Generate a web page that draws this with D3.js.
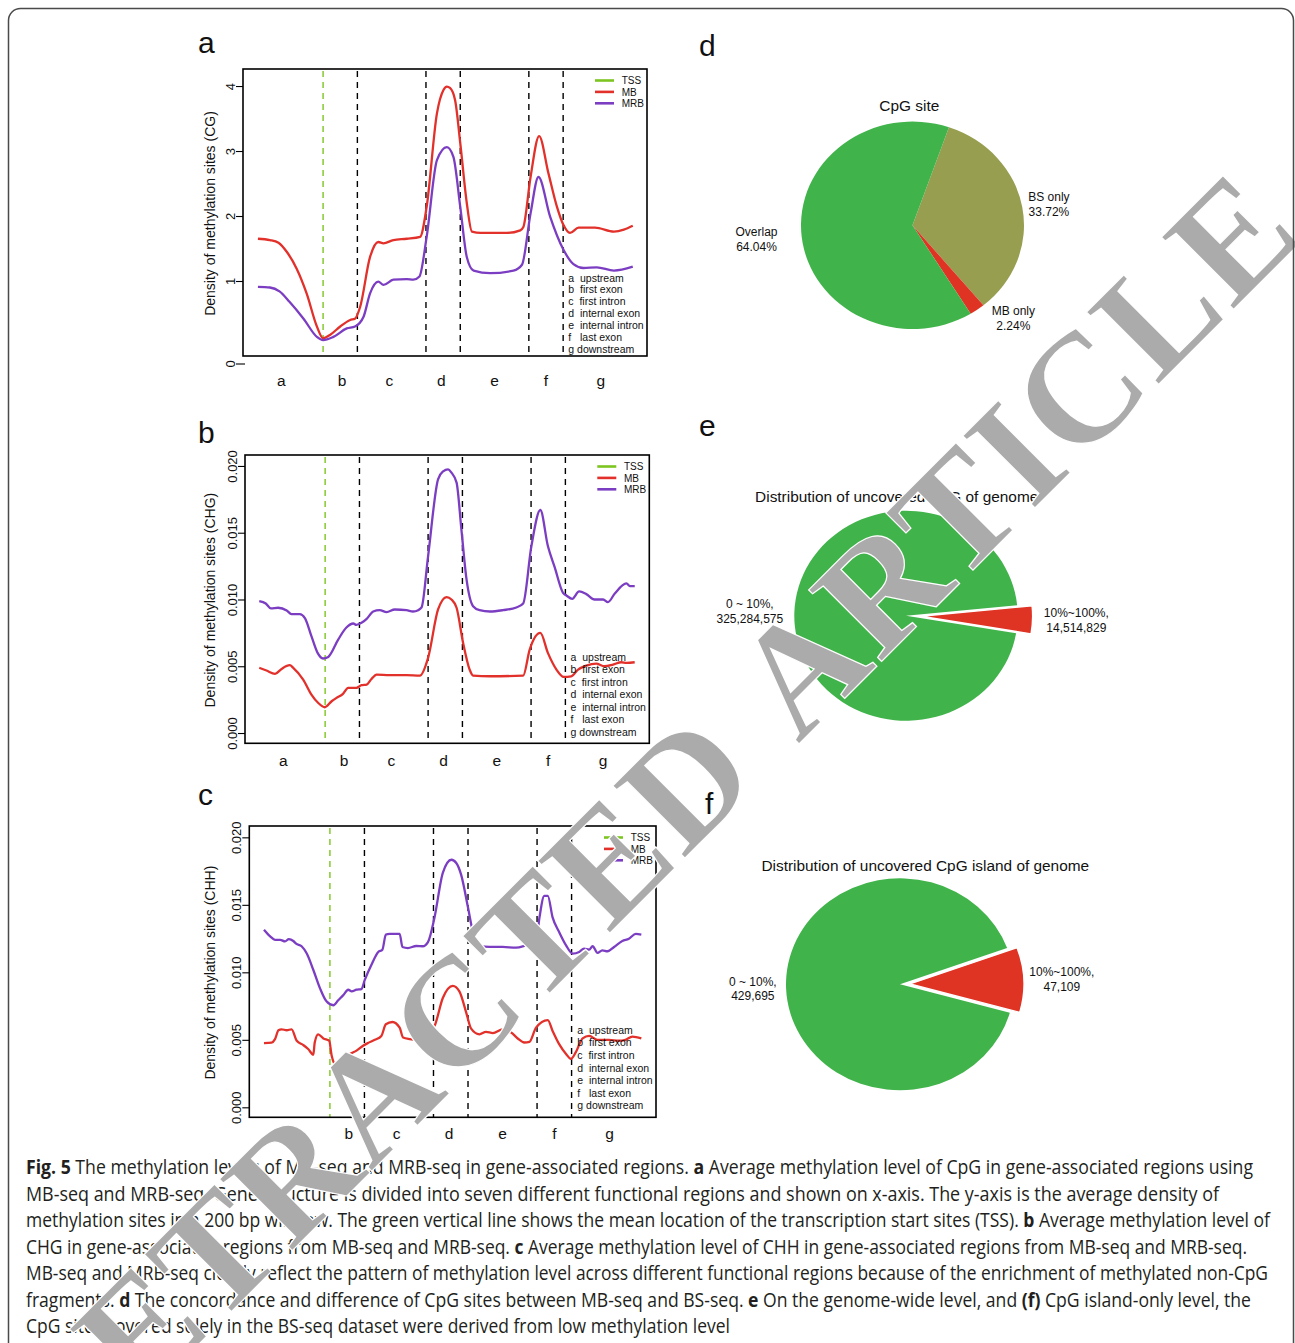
<!DOCTYPE html>
<html>
<head>
<meta charset="utf-8">
<script src="https://cdn.jsdelivr.net/npm/d3@7"></script>
<style>
  body { margin: 0; background: #fff; }
  svg text { font-family: "Liberation Sans", Arial, Helvetica, sans-serif; fill: #111; }
</style>
</head>
<body>
<svg id="fig" width="1295" height="1343"></svg>
<script>
// ---- data ----
const regionNames = ["a", "b", "c", "d", "e", "f", "g"];
const regionLabelPos = [0.78, 2.55, 3.93, 5.45, 7.0, 8.5, 10.1];
const tssPos = 2;
const boundaries = [3, 5, 6, 8, 9];
const regionLegend = ["a  upstream", "b  first exon", "c  first intron", "d  internal exon",
                      "e  internal intron", "f   last exon", "g downstream"];
const seriesNames = ["TSS", "MB", "MRB"];

const cgTicks = [1, 2, 3, 4];
const chTicks = [0, 0.005, 0.010, 0.015, 0.020];

const cgMB = [[0.1,1.65],[0.45,1.63],[0.7,1.59],[0.94,1.45],[1.23,1.19],[1.52,0.81],[1.82,0.30],[2.0,0.12],[2.2,0.17],[2.5,0.30],[2.79,0.40],[2.93,0.42],[3.08,0.60],[3.37,1.37],[3.61,1.60],[3.76,1.58],[4.05,1.63],[4.44,1.65],[4.83,1.68],[5.02,2.14],[5.32,3.58],[5.51,3.94],[5.61,3.99],[5.7,3.97],[5.85,3.78],[6.0,3.12],[6.19,2.2],[6.34,1.76],[6.6,1.74],[7.36,1.74],[7.75,1.78],[7.84,1.83],[8.05,2.6],[8.3,3.23],[8.57,2.66],[8.82,2.14],[9.01,1.86],[9.2,1.74],[9.45,1.82],[9.93,1.82],[10.48,1.76],[10.77,1.79],[11.03,1.85]];
const cgMRB = [[0.1,0.91],[0.45,0.90],[0.73,0.84],[1.02,0.68],[1.43,0.42],[1.82,0.14],[2.0,0.09],[2.3,0.14],[2.69,0.27],[2.93,0.30],[3.18,0.45],[3.37,0.81],[3.61,0.99],[3.76,0.94],[4.05,1.02],[4.44,1.03],[4.63,1.02],[4.81,1.07],[5.02,1.68],[5.32,2.86],[5.61,3.06],[5.8,2.91],[6.0,2.14],[6.19,1.37],[6.39,1.16],[6.87,1.12],[7.55,1.16],[7.8,1.25],[8.05,2.04],[8.28,2.6],[8.62,1.99],[9.01,1.48],[9.3,1.26],[9.59,1.2],[9.98,1.21],[10.48,1.16],[11.03,1.22]];

const chgMB = [[0.08,0.00488],[0.29,0.00468],[0.54,0.00443],[0.73,0.0048],[0.97,0.00508],[1.07,0.00488],[1.36,0.004],[1.6,0.00288],[1.8,0.00225],[1.99,0.00193],[2.19,0.00238],[2.33,0.00263],[2.52,0.00293],[2.67,0.00338],[2.91,0.00338],[3.06,0.00358],[3.21,0.00363],[3.35,0.00405],[3.5,0.00438],[3.88,0.00433],[4.37,0.00433],[4.76,0.0043],[5.0,0.00563],[5.29,0.00925],[5.54,0.01018],[5.68,0.01],[5.83,0.00938],[6.02,0.00675],[6.21,0.00475],[6.31,0.0043],[6.8,0.00425],[7.77,0.0043],[7.96,0.00625],[8.27,0.0075],[8.49,0.006],[8.74,0.00475],[8.95,0.0042],[9.17,0.00425],[9.37,0.00475],[9.61,0.00505],[9.9,0.0052],[10.14,0.005],[10.39,0.00513],[10.63,0.0053],[10.78,0.00525],[11.02,0.0053]];
const chgMRB = [[0.08,0.00988],[0.27,0.0097],[0.42,0.00933],[0.63,0.00938],[0.88,0.00918],[1.02,0.0089],[1.26,0.0089],[1.41,0.0086],[1.6,0.00725],[1.78,0.006],[1.94,0.00558],[2.09,0.0057],[2.38,0.007],[2.62,0.0079],[2.82,0.0082],[2.91,0.0081],[3.06,0.00825],[3.21,0.00855],[3.4,0.0091],[3.59,0.0092],[3.79,0.00905],[4.03,0.00925],[4.37,0.0092],[4.56,0.0091],[4.71,0.0092],[4.81,0.0094],[5.0,0.01325],[5.29,0.019],[5.44,0.0196],[5.58,0.01975],[5.68,0.0195],[5.83,0.01875],[5.97,0.01525],[6.12,0.0115],[6.31,0.0095],[6.5,0.0092],[6.8,0.0091],[7.18,0.0092],[7.57,0.0094],[7.77,0.0097],[8.01,0.014],[8.27,0.0167],[8.49,0.014],[8.69,0.0124],[8.93,0.0105],[9.03,0.0103],[9.2,0.01005],[9.4,0.0106],[9.61,0.0104],[9.85,0.0100],[10.1,0.0100],[10.24,0.0098],[10.44,0.01045],[10.78,0.0112],[10.88,0.011],[11.02,0.011]];

const chhMB = [[0.09,0.00476],[0.31,0.0048],[0.41,0.00505],[0.51,0.00571],[0.6,0.00578],[0.75,0.00571],[0.89,0.00578],[1.04,0.00493],[1.23,0.00461],[1.37,0.00432],[1.52,0.0039],[1.56,0.0048],[1.66,0.00541],[1.81,0.0051],[1.98,0.00493],[2.05,0.00383],[2.19,0.00305],[2.38,0.00354],[2.58,0.00395],[2.77,0.0042],[2.96,0.00456],[3.1,0.00476],[3.3,0.005],[3.49,0.00529],[3.62,0.00615],[3.81,0.00632],[4.02,0.0059],[4.12,0.00517],[4.31,0.00505],[4.5,0.005],[4.7,0.00517],[5.03,0.00602],[5.27,0.0081],[5.56,0.009],[5.75,0.00859],[5.95,0.007],[6.09,0.00583],[6.33,0.00541],[6.52,0.00559],[6.72,0.0055],[7.0,0.00578],[7.25,0.00554],[7.44,0.0051],[7.63,0.0048],[7.78,0.00485],[7.97,0.0059],[8.31,0.00646],[8.45,0.00566],[8.64,0.00468],[8.84,0.00395],[8.98,0.00359],[9.12,0.00407],[9.32,0.0051],[9.51,0.00529],[9.75,0.005],[10.08,0.005],[10.37,0.00493],[10.56,0.005],[10.76,0.00524],[11.02,0.0051]];
const chhMRB = [[0.09,0.01315],[0.27,0.01266],[0.41,0.01241],[0.56,0.01241],[0.7,0.01229],[0.81,0.01246],[0.94,0.01232],[1.02,0.01212],[1.18,0.01193],[1.33,0.01139],[1.52,0.01017],[1.71,0.00883],[1.9,0.00785],[2.1,0.00756],[2.24,0.00793],[2.38,0.00829],[2.53,0.00871],[2.63,0.00859],[2.77,0.00871],[2.91,0.00876],[3.01,0.00944],[3.2,0.01054],[3.4,0.01151],[3.52,0.01168],[3.62,0.0128],[3.73,0.01285],[4.02,0.01285],[4.1,0.01188],[4.26,0.0118],[4.5,0.01195],[4.69,0.01193],[4.84,0.01224],[5.03,0.01407],[5.27,0.01737],[5.52,0.01834],[5.66,0.0181],[5.8,0.01724],[6.0,0.0148],[6.14,0.01300],[6.33,0.012],[6.62,0.01188],[7.0,0.01188],[7.39,0.01183],[7.68,0.012],[7.97,0.01224],[8.07,0.01407],[8.21,0.01566],[8.31,0.01566],[8.45,0.01407],[8.64,0.01298],[8.84,0.012],[9.03,0.01139],[9.22,0.01151],[9.36,0.01176],[9.51,0.01168],[9.61,0.01193],[9.75,0.01144],[9.89,0.01163],[10.04,0.01156],[10.23,0.01188],[10.47,0.01232],[10.66,0.01249],[10.86,0.01285],[11.02,0.0128]];

const cpgLabels = ["BS only", "MB only", "Overlap"];
const cpgPct = [33.72, 2.24, 64.04];
const coverLabels = ["10%~100%,", "0 ~ 10%,"];
const genomeCounts = [14514829, 325284575];
const islandCounts = [47109, 429695];

const captionLines = [
  "**Fig. 5** The methylation levels of MB-seq and MRB-seq in gene-associated regions. **a** Average methylation level of CpG in gene-associated regions using",
  "MB-seq and MRB-seq. Gene structure is divided into seven different functional regions and shown on x-axis. The y-axis is the average density of",
  "methylation sites in a 200 bp window. The green vertical line shows the mean location of the transcription start sites (TSS). **b** Average methylation level of",
  "CHG in gene-associated regions from MB-seq and MRB-seq. **c** Average methylation level of CHH in gene-associated regions from MB-seq and MRB-seq.",
  "MB-seq and MRB-seq clearly reflect the pattern of methylation level across different functional regions because of the enrichment of methylated non-CpG",
  "fragments. **d** The concordance and difference of CpG sites between MB-seq and BS-seq. **e** On the genome-wide level, and **(f)** CpG island-only level, the",
  "CpG sites covered solely in the BS-seq dataset were derived from low methylation level"
];
const captionEnds = [1253, 1219, 1270, 1247, 1268, 1251, 730];

// ---- colours ----
const RED = "#e2302a", PURPLE = "#7b3dc2", TSSGREEN = "#7cc520";
const PIEGREEN = "#41b34b", OLIVE = "#979e4f", PIERED = "#df3324";

const svg = d3.select("#fig");

// ---- line panels a, b, c ----
const fmt3 = d3.format(".3f");
const panels = [
  { letter: "a", ly: 53, title: "Density of methylation sites (CG)", box: [243, 69, 647, 356],
    ydom: [-0.154, 4.262], mb: cgMB, mrb: cgMRB, ticks: cgTicks, fmt: d3.format("d"),
    xlabY: 30, legY: 277.7, legStep: 11.9, zero: true },
  { letter: "b", ly: 443, title: "Density of methylation sites (CHG)", box: [245, 455, 649.3, 743.3],
    ydom: [-0.00077, 0.02082], mb: chgMB, mrb: chgMRB, ticks: chTicks, fmt: fmt3,
    xlabY: 22.7, legY: 656.7, legStep: 12.55, zero: false },
  { letter: "c", ly: 805, title: "Density of methylation sites (CHH)", box: [249.3, 826, 656, 1117.3],
    ydom: [-0.00074, 0.02084], mb: chhMB, mrb: chhMRB, ticks: chTicks, fmt: fmt3,
    xlabY: 21.2, legY: 1030, legStep: 12.6, zero: false }
];
const xDomain = [-0.335, 11.445];

panels.forEach(p => {
  const [x0, y0, x1, y1] = p.box;
  const x = d3.scaleLinear().domain(xDomain).range([x0, x1]);
  const y = d3.scaleLinear().domain(p.ydom).range([y1, y0]);
  const g = svg.append("g");

  g.append("text").attr("x", 198).attr("y", p.ly).style("font-size", "30px").text(p.letter);

  g.selectAll(".bound").data(boundaries).join("line")
    .attr("x1", d => x(d)).attr("x2", d => x(d)).attr("y1", y0 + 2).attr("y2", y1)
    .attr("stroke", "#000").attr("stroke-width", 1.4).attr("stroke-dasharray", "6,5");
  g.append("line")
    .attr("x1", x(tssPos)).attr("x2", x(tssPos)).attr("y1", y0 + 2).attr("y2", y1)
    .attr("stroke", TSSGREEN).attr("stroke-width", 1.4).attr("stroke-dasharray", "6,5");

  const line = d3.line().x(d => x(d[0])).y(d => y(d[1])).curve(d3.curveMonotoneX);
  g.append("path").datum(p.mb).attr("d", line)
    .attr("fill", "none").attr("stroke", RED).attr("stroke-width", 2.3).attr("stroke-linejoin", "round");
  g.append("path").datum(p.mrb).attr("d", line)
    .attr("fill", "none").attr("stroke", PURPLE).attr("stroke-width", 2.3).attr("stroke-linejoin", "round");

  g.append("rect").attr("x", x0).attr("y", y0).attr("width", x1 - x0).attr("height", y1 - y0)
    .attr("fill", "none").attr("stroke", "#000").attr("stroke-width", 1.6);

  // y axis, labels parallel to the axis like R
  const axis = d3.axisLeft(y).tickValues(p.ticks).tickSize(7).tickFormat(p.fmt);
  const ag = g.append("g").attr("transform", `translate(${x0},0)`).call(axis);
  ag.select(".domain").remove();
  ag.selectAll(".tick line").attr("stroke", "#000").attr("stroke-width", 1.1);
  ag.selectAll(".tick text")
    .attr("x", null).attr("dy", null).attr("y", null)
    .attr("transform", "translate(-8,0) rotate(-90)")
    .attr("text-anchor", "middle")
    .style("font-size", "13px").style("font-family", '"Liberation Sans", Arial, sans-serif').attr("fill", "#111");
  if (p.zero) {
    const zg = g.append("g").attr("transform", `translate(${x0},${y1 + 8})`);
    zg.append("line").attr("x1", -7).attr("x2", 2).attr("stroke", "#000").attr("stroke-width", 1.1);
    zg.append("text").attr("transform", "translate(-8,0) rotate(-90)").attr("text-anchor", "middle")
      .style("font-size", "13px").text("0");
  }

  g.append("text")
    .attr("transform", `translate(215,${(y0 + y1) / 2 + 1}) rotate(-90)`)
    .attr("text-anchor", "middle").style("font-size", "14px").text(p.title);

  g.selectAll(".xl").data(regionNames).join("text")
    .attr("x", (d, i) => x(regionLabelPos[i])).attr("y", y1 + p.xlabY)
    .attr("text-anchor", "middle").style("font-size", "15.5px").text(d => d);

  // series legend
  const cols = [TSSGREEN, RED, PURPLE];
  const lg = g.append("g").attr("transform", `translate(${x1},${y0 + 11.5})`);
  seriesNames.forEach((s, i) => {
    lg.append("line").attr("x1", -52).attr("x2", -33).attr("y1", i * 11.4).attr("y2", i * 11.4)
      .attr("stroke", cols[i]).attr("stroke-width", 2.6);
    lg.append("text").attr("x", -25.3).attr("y", i * 11.4 + 3.6).style("font-size", "10px").text(s);
  });

  // region legend
  g.selectAll(".rl").data(regionLegend).join("text")
    .attr("x", x1 - 78.7).attr("y", (d, i) => p.legY + i * p.legStep + 3.8)
    .attr("xml:space", "preserve").style("white-space", "pre")
    .style("font-size", "10.5px").text(d => d);
});

// ---- pies d, e, f ----
function drawPie(cfg) {
  const sx = cfg.rx / cfg.ry;
  const a0 = cfg.startDeg * Math.PI / 180;
  const pie = d3.pie().sort(null).value(d => d).startAngle(a0).endAngle(a0 + 2 * Math.PI);
  const arcs = pie(cfg.values);
  const arc = d3.arc().innerRadius(0).outerRadius(cfg.ry);
  const g = svg.append("g");

  g.append("text").attr("x", cfg.titleX).attr("y", cfg.titleY).attr("text-anchor", "middle")
    .style("font-size", "15.4px").text(cfg.title);

  const pg = g.append("g").attr("transform", `translate(${cfg.cx},${cfg.cy}) scale(${sx},1)`);
  arcs.forEach((a, i) => {
    const mid = (a.startAngle + a.endAngle) / 2;
    const off = cfg.explode[i];
    pg.append("path").attr("d", arc(a))
      .attr("transform", `translate(${off * Math.sin(mid) / sx},${-off * Math.cos(mid)})`)
      .attr("fill", cfg.colors[i])
      .attr("stroke", off > 0 ? "#fff" : "none").attr("stroke-width", 1.5 / sx);

    // label at 1.1 r along the bisector, like R's pie()
    const nud = cfg.nudge[i];
    const px = cfg.cx + (1.1 * cfg.rx + off) * Math.sin(mid) + nud[0];
    const py = cfg.cy - (1.1 * cfg.ry + off) * Math.cos(mid) + nud[1];
    const lines = cfg.labels[i];
    const tg = g.append("g");
    const texts = lines.map((t, j) => tg.append("text")
      .attr("y", py + (j - (lines.length - 1) / 2) * 14.8 + 4.2)
      .attr("text-anchor", "middle").style("font-size", "12px").text(t));
    const w = d3.max(texts, t => t.node().getComputedTextLength());
    const cxText = Math.sin(mid) >= 0 ? px + w / 2 : px - w / 2;
    texts.forEach(t => t.attr("x", cxText));
  });
}

const big = d3.format(",");
drawPie({
  title: "CpG site", titleX: 909.3, titleY: 110.5,
  cx: 912.5, cy: 225.3, rx: 111.5, ry: 103.7, startDeg: 19.1,
  values: cpgPct, colors: [OLIVE, PIERED, PIEGREEN], explode: [0, 0, 0],
  nudge: [[-5, -1], [8, 0], [-13, 2]],
  labels: cpgLabels.map((l, i) => [l, cpgPct[i].toFixed(2) + "%"])
});
drawPie({
  title: "Distribution of uncovered CpG of genome", titleX: 896.7, titleY: 502,
  cx: 906, cy: 615.7, rx: 111.7, ry: 105, startDeg: 84.3,
  values: genomeCounts, colors: [PIERED, PIEGREEN], explode: [15, 0],
  nudge: [[0, 0], [0, 0]],
  labels: coverLabels.map((l, i) => [l, big(genomeCounts[i])])
});
drawPie({
  title: "Distribution of uncovered CpG island of genome", titleX: 925.3, titleY: 870.5,
  cx: 900, cy: 984.3, rx: 114, ry: 106, startDeg: 70,
  values: islandCounts, colors: [PIERED, PIEGREEN], explode: [10, 0],
  nudge: [[-6, 0], [2, 0]],
  labels: coverLabels.map((l, i) => [l, big(islandCounts[i])])
});

[["d", 699, 56], ["e", 699, 436], ["f", 705, 814]].forEach(([t, x, y]) => {
  svg.append("text").attr("x", x).attr("y", y).style("font-size", "30px").text(t);
});

// ---- caption ----
const cap = svg.append("g");
captionLines.forEach((ln, i) => {
  const t = cap.append("text").attr("x", 26).attr("y", 1174 + i * 26.55)
    .attr("textLength", captionEnds[i] - 26).attr("lengthAdjust", "spacingAndGlyphs")
    .attr("xml:space", "preserve")
    .style("font-size", "20px").style("font-family", '"Liberation Sans Narrow", "Open Sans", sans-serif')
    .attr("fill", "#231f20");
  ln.split("**").forEach((part, k) => {
    if (!part) return;
    t.append("tspan").text(part).style("font-weight", k % 2 ? "bold" : "normal").attr("fill", "#231f20");
  });
});

// ---- watermark ----
const wm = svg.append("g").attr("transform", "translate(798,745) rotate(-45)");
[["RETRACTED", -48, "end"], ["ARTICLE", 0, "start"]].forEach(([word, x, anchor]) => {
  wm.append("text").attr("x", x).attr("y", 0).attr("text-anchor", anchor)
    .style("font-family", '"Liberation Serif", "Times New Roman", serif').style("font-size", "156px")
    .style("font-weight", "bold").style("letter-spacing", "2px").style("fill", "#ababab")
    .attr("stroke", "#fff").attr("stroke-width", 1.2).text(word);
});

// ---- frame ----
svg.append("rect").attr("x", 8.5).attr("y", 8.5).attr("width", 1285).attr("height", 1350)
  .attr("rx", 12).attr("fill", "none").attr("stroke", "#4a4a4a").attr("stroke-width", 1.5);
</script>
</body>
</html>
